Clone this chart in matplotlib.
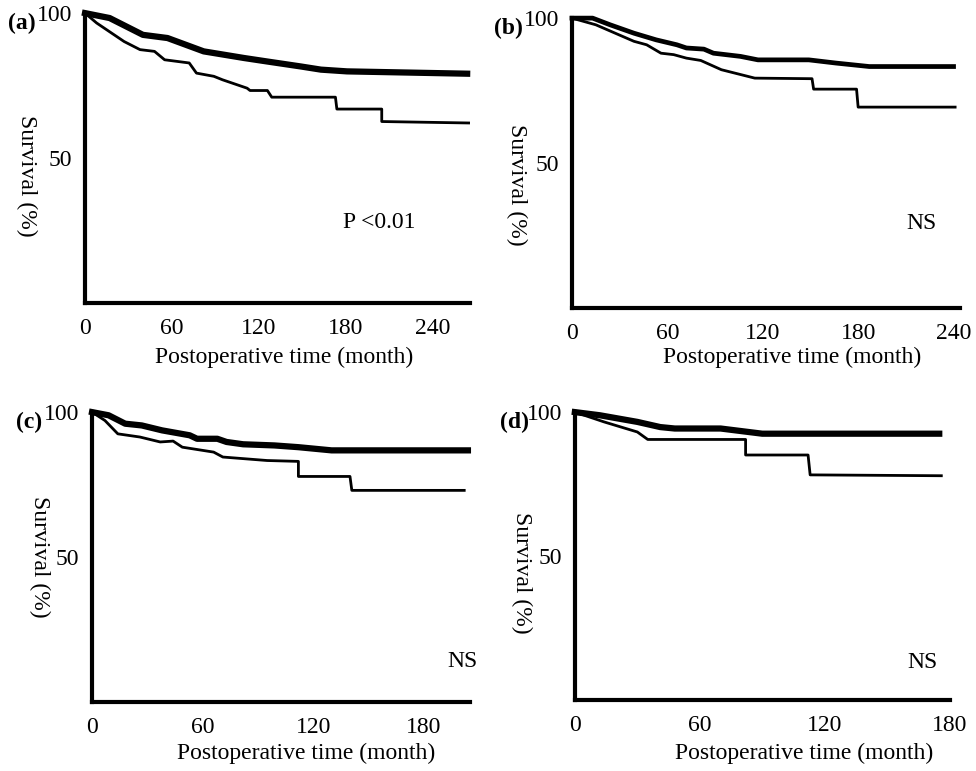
import matplotlib.pyplot as plt

# panel (a)
aMonthsThick = [0, 17, 40, 57, 82, 110, 126, 149, 163, 181, 264]
aSurvThick = [100, 98.3, 92.5, 91.4, 86.8, 84.5, 83.3, 81.6, 80.5, 79.9, 79.1]
aMonthsThin = [0, 8, 27, 38, 48, 55, 72, 77, 89, 95, 112, 114, 126, 129, 173, 174, 205, 205, 265]
aSurvThin = [100, 96.6, 90.2, 87.4, 86.8, 83.9, 82.8, 79.3, 78.2, 77.0, 74.1, 73.3, 73.3, 71.0, 71.0, 66.9, 66.9, 62.6, 62.1]

# panel (b)
bMonthsThick = [0, 13, 24, 39, 53, 66, 72, 83, 89, 106, 117, 149, 166, 187, 240]
bSurvThick = [100, 100, 97.7, 94.8, 92.5, 90.8, 89.7, 89.3, 87.9, 86.8, 85.6, 85.6, 84.5, 83.3, 83.3]
bMonthsThin = [0, 15, 39, 47, 56, 64, 72, 81, 94, 115, 151, 152, 179, 180, 241]
bSurvThin = [100, 97.7, 92.0, 90.8, 87.9, 87.4, 86.2, 85.4, 82.2, 79.3, 79.1, 75.5, 75.5, 69.3, 69.3]

# panel (c)
cMonthsThick = [0, 9, 18, 27, 38, 53, 57, 68, 73, 82, 99, 112, 130, 204]
cSurvThick = [100, 98.9, 96.0, 95.4, 93.7, 92.0, 90.8, 90.8, 89.7, 88.9, 88.5, 87.9, 86.8, 86.8]
cMonthsThin = [0, 7, 14, 26, 37, 44, 49, 66, 71, 95, 112, 112, 140, 141, 202]
cSurvThin = [100, 97.1, 92.5, 91.4, 89.7, 90.0, 87.9, 86.2, 84.5, 83.3, 83.0, 77.8, 77.8, 73.0, 73.0]

# panel (d)
dMonthsThick = [0, 12, 30, 41, 48, 70, 90, 175]
dSurvThick = [100, 98.9, 96.6, 94.8, 94.3, 94.3, 92.5, 92.5]
dMonthsThin = [0, 14, 30, 35, 82, 82, 112, 113, 176]
dSurvThin = [100, 96.6, 93.1, 90.5, 90.5, 85.1, 85.1, 78.2, 77.9]

plt.rcParams['font.family'] = ['Liberation Serif', 'DejaVu Serif']

fig = plt.figure(figsize=(9.76, 7.71), dpi=100)


def drawPanel(rect, letter, xmax, xticks, thick, thin, thickWidth, note, notePos, ylabelPos, xlabelPos):
    ax = fig.add_axes(rect)
    ax.plot(thick[0], thick[1], color='black', lw=thickWidth, clip_on=False, solid_joinstyle='round')
    ax.plot(thin[0], thin[1], color='black', lw=2.0, clip_on=False)
    ax.set_xlim(0, xmax)
    ax.set_ylim(0, 100)
    ax.spines['top'].set_visible(False)
    ax.spines['right'].set_visible(False)
    ax.spines['left'].set_linewidth(3)
    ax.spines['bottom'].set_linewidth(3)
    ax.set_xticks(xticks)
    ax.set_yticks([50, 100])
    ax.tick_params(axis='x', length=0, labelsize=17, pad=11)
    ax.tick_params(axis='y', length=0, labelsize=17, pad=9)
    # axis titles placed by hand, y one reads top to bottom
    ax.text(ylabelPos[0], ylabelPos[1], 'Survival (%)', transform=ax.transAxes, fontsize=17,
            rotation=-90, ha='center', va='center')
    ax.text(xlabelPos[0], xlabelPos[1], 'Postoperative time (month)', transform=ax.transAxes,
            fontsize=17, ha='center', va='center')
    ax.text(notePos[0], notePos[1], note, transform=ax.transAxes, fontsize=17, va='center', ha='left')
    ax.text(-0.2, 0.965, letter, transform=ax.transAxes, fontsize=17, fontweight='bold', va='center', ha='left')
    return ax


drawPanel([0.0871, 0.607, 0.3945, 0.376], '(a)', 266, [0, 60, 120, 180, 240],
          (aMonthsThick, aSurvThick), (aMonthsThin, aSurvThin), 4.5,
          'P <0.01', (0.67, 0.276), (-0.151, 0.438), (0.517, -0.186))
drawPanel([0.586, 0.6005, 0.3975, 0.376], '(b)', 244, [0, 60, 120, 180, 240],
          (bMonthsThick, bSurvThick), (bMonthsThin, bSurvThin), 3.4,
          'NS', (0.863, 0.293), (-0.142, 0.424), (0.567, -0.169))
drawPanel([0.0943, 0.0895, 0.387, 0.376], '(c)', 205, [0, 60, 120, 180],
          (cMonthsThick, cSurvThick), (cMonthsThin, cSurvThin), 4.5,
          'NS', (0.942, 0.138), (-0.138, 0.5), (0.566, -0.176))
drawPanel([0.589, 0.092, 0.384, 0.3735], '(d)', 178, [0, 60, 120, 180],
          (dMonthsThick, dSurvThick), (dMonthsThin, dSurvThin), 4.5,
          'NS', (0.888, 0.132), (-0.141, 0.441), (0.613, -0.184))

plt.savefig('out.png', dpi=100)
plt.close()
